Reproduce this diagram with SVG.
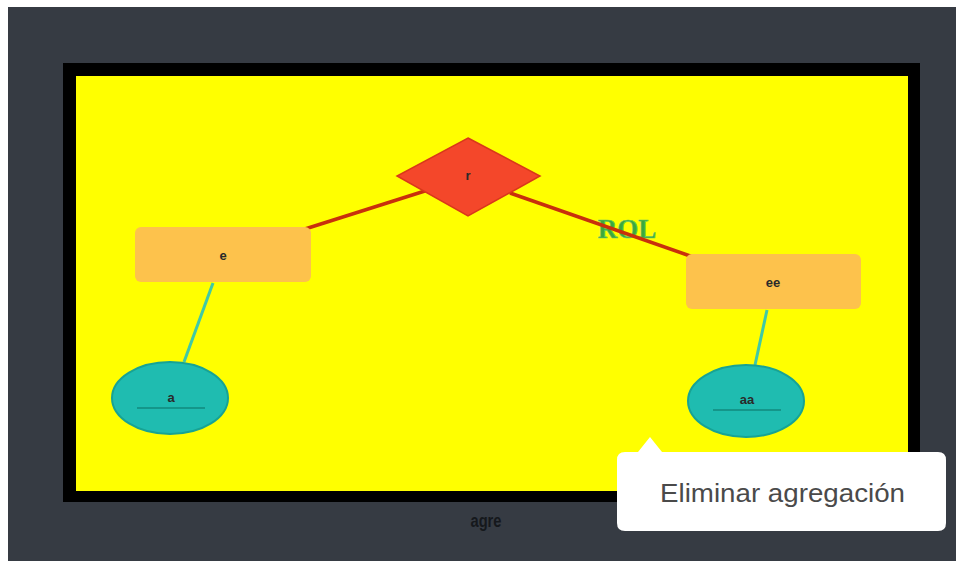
<svg xmlns="http://www.w3.org/2000/svg" width="956" height="561" viewBox="0 0 956 561">
<style>
.ent{fill:#fdc24c;}
.att{fill:#1fbcb0;stroke:#17a394;stroke-width:2;}
.lbl{font-family:"Liberation Sans",Arial,sans-serif;font-size:13px;font-weight:bold;fill:#2a2a2a;text-anchor:middle;}
.rel{stroke:#c8300c;stroke-width:3.5;fill:none;}
.attl{stroke:#40c9a6;stroke-width:3;fill:none;}
.ul{stroke:#14968a;stroke-width:2;}
</style>
<rect x="0" y="0" width="956" height="561" fill="#ffffff"/>
<rect x="8" y="7" width="948" height="554" fill="#363b43"/>
<rect x="63" y="63" width="857" height="439" fill="#000000"/>
<rect x="76" y="76" width="832" height="415" fill="#ffff00"/>
<g id="connectors">
<line class="rel" x1="305" y1="229" x2="428" y2="190"/>
<line class="attl" x1="213" y1="283" x2="184" y2="362"/>
<line class="attl" x1="767" y1="310" x2="755" y2="365"/>
</g>
<text x="627" y="238" font-family="'Liberation Serif','Times New Roman',serif" font-size="27" font-weight="bold" fill="#3ca83c" stroke="#6cc86c" stroke-width="0.6" text-anchor="middle">ROL</text>
<line class="rel" x1="510" y1="193" x2="693" y2="257"/>
<g id="r">
<polygon points="468,138 540,176 468,216 397,176" fill="#f4472a" stroke="#d9381a" stroke-width="1.5"/>
<text class="lbl" x="468" y="180">r</text>
</g>
<g id="e">
<rect class="ent" x="135" y="227" width="176" height="55" rx="6"/>
<text class="lbl" x="223" y="260">e</text>
</g>
<g id="ee">
<rect class="ent" x="686" y="254" width="175" height="55" rx="6"/>
<text class="lbl" x="773" y="287">ee</text>
</g>
<g id="a">
<ellipse class="att" cx="170" cy="398" rx="58" ry="36"/>
<text class="lbl" x="171" y="402">a</text>
<line class="ul" x1="137" y1="408" x2="205" y2="408"/>
</g>
<g id="aa">
<ellipse class="att" cx="746" cy="401" rx="58" ry="36"/>
<text class="lbl" x="747" y="404">aa</text>
<line class="ul" x1="713" y1="410" x2="781" y2="410"/>
</g>
<text x="486" y="527" font-family="'Liberation Sans',Arial,sans-serif" font-size="18" font-weight="bold" fill="#15181c" text-anchor="middle" textLength="31" lengthAdjust="spacingAndGlyphs">agre</text>
<g id="tooltip">
<path d="M625,452 H638 L650,437 L662,452 H938 Q946,452 946,460 V523 Q946,531 938,531 H625 Q617,531 617,523 V460 Q617,452 625,452 Z" fill="#ffffff"/>
<text x="660" y="502" font-family="'Liberation Sans',Arial,sans-serif" font-size="26.5" fill="#4a4a4a" textLength="245" lengthAdjust="spacingAndGlyphs">Eliminar agregación</text>
</g>
</svg>
